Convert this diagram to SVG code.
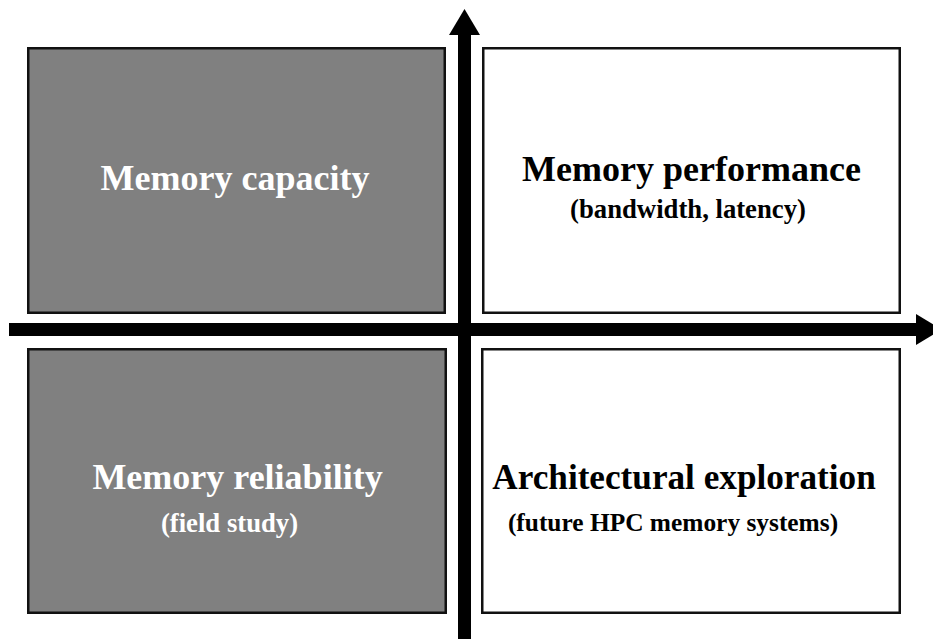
<svg xmlns="http://www.w3.org/2000/svg" width="933" height="639" viewBox="0 0 933 639">
  <style>
    .box { stroke: #111; stroke-width: 2.5; }
    .dark { fill: #808080; }
    .light { fill: #ffffff; }
    .title { font-family: "Liberation Serif", "Times New Roman", serif; font-weight: bold; font-size: 36px; text-anchor: middle; }
    .sub { font-family: "Liberation Serif", "Times New Roman", serif; font-weight: bold; font-size: 26.7px; text-anchor: middle; }
    .onDark { fill: #ffffff; }
    .onLight { fill: #000000; }
    .axis { fill: #000000; }
  </style>
  <rect width="933" height="639" fill="#ffffff"/>

  <!-- quadrant: top-left -->
  <g id="memory-capacity">
    <rect class="box dark" x="28.25" y="48.25" width="416.5" height="264.5"/>
    <text class="title onDark" x="235" y="190">Memory capacity</text>
  </g>

  <!-- quadrant: top-right -->
  <g id="memory-performance">
    <rect class="box light" x="483.25" y="48.25" width="416.5" height="264.5"/>
    <text class="title onLight" x="691.5" y="181">Memory performance</text>
    <text class="sub onLight" x="688" y="218">(bandwidth, latency)</text>
  </g>

  <!-- quadrant: bottom-left -->
  <g id="memory-reliability">
    <rect class="box dark" x="28.25" y="349.25" width="417.5" height="263.5"/>
    <text class="title onDark" x="237.5" y="489">Memory reliability</text>
    <text class="sub onDark" x="229.5" y="532">(field study)</text>
  </g>

  <!-- quadrant: bottom-right -->
  <g id="architectural-exploration">
    <rect class="box light" x="482.25" y="349.25" width="417.5" height="263.5"/>
    <text class="title onLight" x="684" y="489" style="font-size:35.2px">Architectural exploration</text>
    <text class="sub onLight" x="673" y="531" style="font-size:25.4px">(future HPC memory systems)</text>
  </g>

  <!-- axes -->
  <g id="connectors">
    <rect class="axis" x="458" y="34" width="13" height="605"/>
    <polygon class="axis" points="464.5,9 449,35 480,35"/>
    <rect class="axis" x="9" y="323" width="908" height="13"/>
    <polygon class="axis" points="916,314 942,329.5 916,345"/>
  </g>
</svg>
